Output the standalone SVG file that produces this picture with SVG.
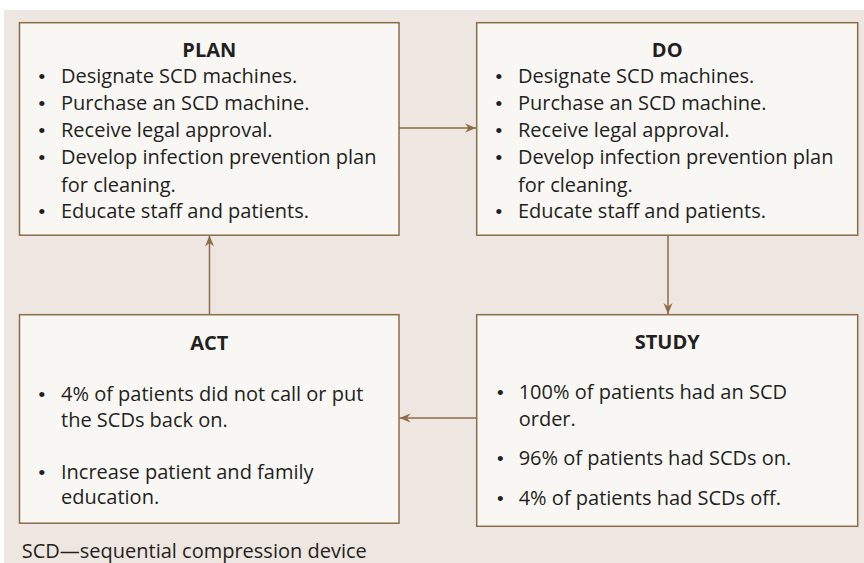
<svg xmlns="http://www.w3.org/2000/svg" width="864" height="563" viewBox="0 0 864 563">
<style>
.bg{fill:#EEE6E0}
.box{fill:#F8F7F4;stroke:#8C6D48;stroke-width:1.5}
.t{font-family:"Open Sans",Lato,"Liberation Sans",sans-serif;font-size:20px;fill:#231F20}
.h{font-weight:bold;text-anchor:middle}
.b{font-family:"Liberation Sans",sans-serif;font-size:19px}
.c{fill:none;stroke:#8C6D48;stroke-width:1.5}
</style>
<defs>
<marker id="ah" markerUnits="userSpaceOnUse" markerWidth="12" markerHeight="10" refX="11" refY="5" orient="auto">
<path d="M0,0.5 L11,5 L0,9.5 L3.5,5 z" fill="#8C6D48"/>
</marker>
</defs>
<rect class="bg" x="4" y="10" width="860" height="553"/>
<g id="connectors">
<line class="c" x1="399" y1="128" x2="476" y2="128" marker-end="url(#ah)"/>
<line class="c" x1="668" y1="235" x2="668" y2="314" marker-end="url(#ah)"/>
<line class="c" x1="476.7" y1="418" x2="399.5" y2="418" marker-end="url(#ah)"/>
<line class="c" x1="209.5" y1="314.7" x2="209.5" y2="235.5" marker-end="url(#ah)"/>
</g>
<g id="plan">
<rect class="box" x="19.5" y="22.7" width="379.5" height="212.5"/>
<text class="t h" x="209.3" y="56.7">PLAN</text>
<text class="t"><tspan class="b" x="38.5" y="83.3">•</tspan><tspan x="61" y="83.3">Designate SCD machines.</tspan><tspan class="b" x="38.5" y="110">•</tspan><tspan x="61" y="110">Purchase an SCD machine.</tspan><tspan class="b" x="38.5" y="137.3">•</tspan><tspan x="61" y="137.3">Receive legal approval.</tspan><tspan class="b" x="38.5" y="164.3">•</tspan><tspan x="61" y="164.3">Develop infection prevention plan</tspan><tspan x="61" y="191.7">for cleaning.</tspan><tspan class="b" x="38.5" y="218.3">•</tspan><tspan x="61" y="218.3">Educate staff and patients.</tspan></text>
</g>
<g id="do">
<rect class="box" x="476.7" y="22.7" width="381" height="212.5"/>
<text class="t h" x="667.2" y="56.7">DO</text>
<text class="t"><tspan class="b" x="495.5" y="83.3">•</tspan><tspan x="518" y="83.3">Designate SCD machines.</tspan><tspan class="b" x="495.5" y="110">•</tspan><tspan x="518" y="110">Purchase an SCD machine.</tspan><tspan class="b" x="495.5" y="137.3">•</tspan><tspan x="518" y="137.3">Receive legal approval.</tspan><tspan class="b" x="495.5" y="164.3">•</tspan><tspan x="518" y="164.3">Develop infection prevention plan</tspan><tspan x="518" y="191.7">for cleaning.</tspan><tspan class="b" x="495.5" y="218.3">•</tspan><tspan x="518" y="218.3">Educate staff and patients.</tspan></text>
</g>
<g id="act">
<rect class="box" x="19.5" y="314.7" width="379.5" height="208.5"/>
<text class="t h" x="209.3" y="350">ACT</text>
<text class="t"><tspan class="b" x="38.5" y="400.7">•</tspan><tspan x="61" y="400.7">4% of patients did not call or put</tspan><tspan x="61" y="427.3">the SCDs back on.</tspan><tspan class="b" x="38.5" y="479.3">•</tspan><tspan x="61" y="479.3">Increase patient and family</tspan><tspan x="61" y="504">education.</tspan></text>
</g>
<g id="study">
<rect class="box" x="476.7" y="314.7" width="381" height="211.6"/>
<text class="t h" x="667.2" y="349">STUDY</text>
<text class="t"><tspan class="b" x="497" y="399">•</tspan><tspan x="518.7" y="399">100% of patients had an SCD</tspan><tspan x="518.7" y="425.7">order.</tspan><tspan class="b" x="497" y="465.3">•</tspan><tspan x="518.7" y="465.3">96% of patients had SCDs on.</tspan><tspan class="b" x="497" y="505">•</tspan><tspan x="518.7" y="505">4% of patients had SCDs off.</tspan></text>
</g>
<text class="t" x="21.7" y="558.3">SCD—sequential compression device</text>
</svg>
